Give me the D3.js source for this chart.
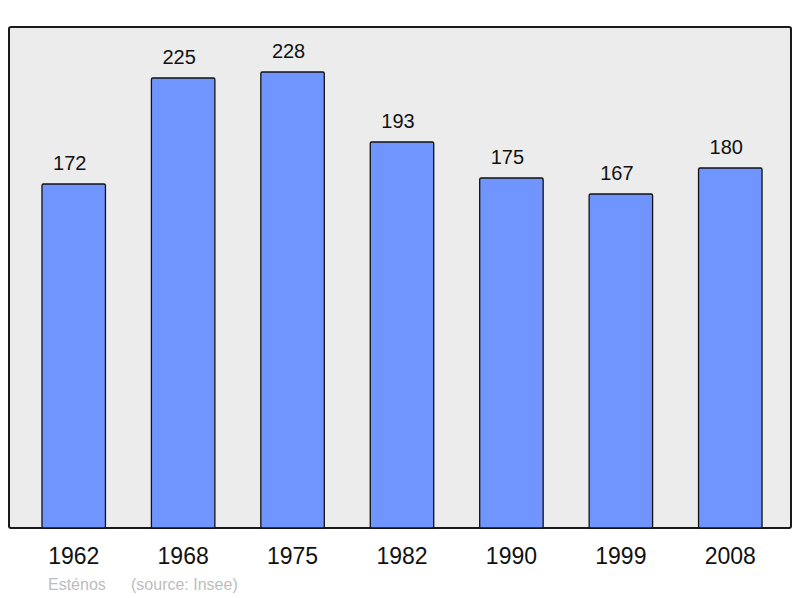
<!DOCTYPE html>
<html>
<head>
<meta charset="utf-8">
<script src="https://cdn.jsdelivr.net/npm/d3@7"></script>
<style>
  body { margin: 0; background: #fff; }
  text { font-family: "Liberation Sans", Arial, sans-serif; }
</style>
</head>
<body>
<svg id="chart"></svg>
<script>
const years = ["1962", "1968", "1975", "1982", "1990", "1999", "2008"];
const population = [172, 225, 228, 193, 175, 167, 180];

const width = 800;
const height = 598;

const svg = d3.select("#chart")
    .attr("width", width)
    .attr("height", height);

// panel
svg.append("rect")
    .attr("x", 9)
    .attr("y", 27)
    .attr("width", 782)
    .attr("height", 501)
    .attr("rx", 2)
    .attr("fill", "#ececec")
    .attr("stroke", "#1a1a1a")
    .attr("stroke-width", 2);

const x = d3.scaleBand()
    .domain(years)
    .range([19, 785])
    .paddingInner(0.42)
    .paddingOuter(0.21);

const y = d3.scaleLinear()
    .domain([0, 250])
    .range([528, 28]);

svg.selectAll("rect.bar")
    .data(population)
    .enter()
    .append("rect")
    .attr("class", "bar")
    .attr("x", (d, i) => x(years[i]))
    .attr("y", d => y(d))
    .attr("width", x.bandwidth())
    .attr("height", d => y(0) - y(d))
    .attr("rx", 1.5)
    .attr("fill", "#7095ff")
    .attr("stroke", "#111")
    .attr("stroke-width", 1.3);

// value labels (sit a little left of bar centre)
svg.selectAll("text.value")
    .data(population)
    .enter()
    .append("text")
    .attr("class", "value")
    .attr("x", (d, i) => x(years[i]) + x.bandwidth() / 2 - 4)
    .attr("y", d => y(d) - 14)
    .attr("text-anchor", "middle")
    .attr("font-size", 20)
    .attr("fill", "#111")
    .text(d => d);

// x axis labels
const axis = svg.append("g")
    .attr("transform", "translate(0,528)")
    .call(d3.axisBottom(x).tickSize(0).tickPadding(20));
axis.select(".domain").remove();
axis.selectAll("text")
    .attr("font-size", 23)
    .attr("font-family", "Liberation Sans, Arial, sans-serif")
    .attr("fill", "#111");

// footer
svg.append("text")
    .attr("x", 48)
    .attr("y", 590)
    .attr("font-size", 16)
    .attr("fill", "#bdbdbd")
    .text("Esténos");
svg.append("text")
    .attr("x", 131)
    .attr("y", 590)
    .attr("font-size", 16)
    .attr("fill", "#bdbdbd")
    .text("(source: Insee)");
</script>
</body>
</html>
